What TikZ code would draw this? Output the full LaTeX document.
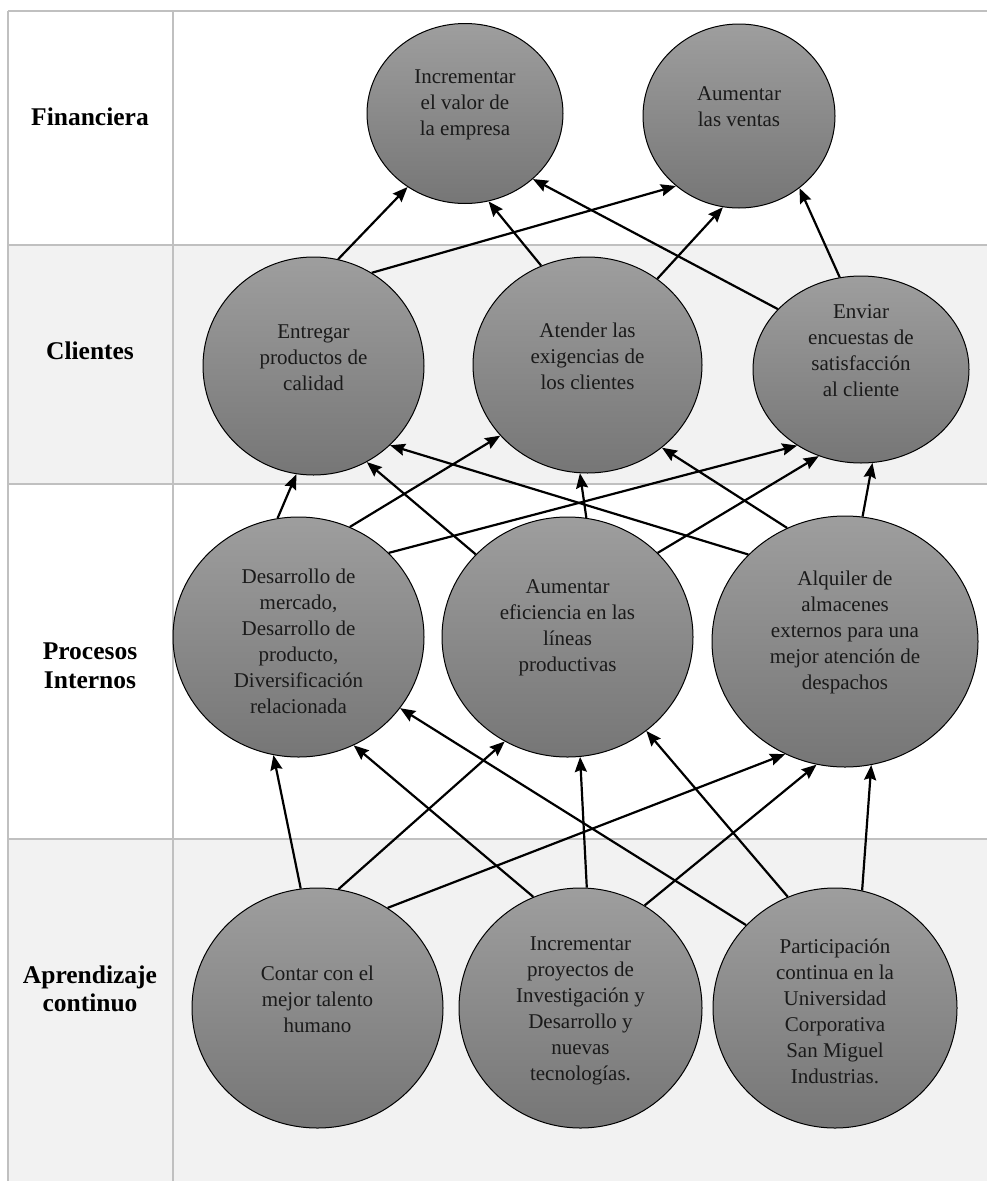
\documentclass[tikz,border=0pt]{standalone}
\usepackage{fontspec}
\setmainfont{Liberation Serif}
\usepackage{tikz}
\usetikzlibrary{arrows.meta,positioning,shapes.geometric}
\usepackage{xcolor}
\definecolor{gridGray}{RGB}{192,192,192}
\definecolor{rowGray}{RGB}{242,242,242}
\definecolor{ballTop}{RGB}{158,158,158}
\definecolor{ballBottom}{RGB}{118,118,118}
\definecolor{inkDark}{RGB}{26,26,26}
\tikzset{
  flow/.style={-{Stealth[length=15pt,width=12pt,inset=2pt]}, line width=2.2pt, draw=black},
  obj/.style={ellipse, draw=black, line width=1pt, top color=ballTop,
              bottom color=ballBottom, inner sep=0pt},
  objtext/.style={align=center, text=inkDark, inner sep=0pt,
                  font=\fontsize{21}{26}\selectfont},
  persp/.style={align=center, text=black, inner sep=0pt,
                font=\bfseries\fontsize{25.5}{28.5}\selectfont},
  rule/.style={draw=gridGray, line width=1.5pt}
}

\begin{document}
\begin{tikzpicture}[x=1pt, y=-1pt]
  \useasboundingbox (0,0) rectangle (987,1181);
  % table
  \fill[white] (0,0) rectangle (987,1181);
  \fill[rowGray] (8,245) rectangle (987,484);
  \fill[rowGray] (8,839) rectangle (987,1181);
  \draw[rule] (8,11) -- (987,11);
  \draw[rule] (8,245) -- (987,245);
  \draw[rule] (8,484) -- (987,484);
  \draw[rule] (8,839) -- (987,839);
  \draw[rule] (8,11) -- (8,1181);
  \draw[rule] (173,11) -- (173,1181);
  \node[persp] (lfin) at (90,117) {Financiera};
  \node[persp] (lcli) at (90,351) {Clientes};
  \node[persp] (lpro) at (90,666) {Procesos\\Internos};
  \node[persp] (lapr) at (90,989) {Aprendizaje\\continuo};
  % objetivos
  \node[obj, minimum width=196pt, minimum height=180pt] (f1) at (465,113.5) {};
  \node[obj, minimum width=192pt, minimum height=184pt] (f2) at (739,116) {};
  \node[obj, minimum width=221pt, minimum height=218pt] (c1) at (313.5,366) {};
  \node[obj, minimum width=229pt, minimum height=216pt] (c2) at (587.5,365) {};
  \node[obj, minimum width=216pt, minimum height=187pt] (c3) at (861,369.5) {};
  \node[obj, minimum width=251pt, minimum height=240pt] (p1) at (298.5,637) {};
  \node[obj, minimum width=251pt, minimum height=240pt] (p2) at (567.5,637) {};
  \node[obj, minimum width=266pt, minimum height=251pt] (p3) at (845,641.5) {};
  \node[obj, minimum width=251pt, minimum height=240pt] (a1) at (317.5,1008) {};
  \node[obj, minimum width=243pt, minimum height=240pt] (a2) at (580.5,1008) {};
  \node[obj, minimum width=244pt, minimum height=240pt] (a3) at (835,1008) {};
  \node[objtext] (f1t) at (465,105) {Incrementar\\el valor de\\la empresa};
  \node[objtext] (f2t) at (739,107) {Aumentar\\las ventas};
  \node[objtext] (c1t) at (313.5,358) {Entregar\\productos de\\calidad};
  \node[objtext] (c2t) at (587.5,356) {Atender las\\exigencias de\\los clientes};
  \node[objtext] (c3t) at (861,351) {Enviar\\encuestas de\\satisfacción\\al cliente};
  \node[objtext] (p1t) at (298.5,641) {Desarrollo de\\mercado,\\Desarrollo de\\producto,\\Diversificación\\relacionada};
  \node[objtext] (p2t) at (567.5,627.5) {Aumentar\\eficiencia en las\\líneas\\productivas};
  \node[objtext] (p3t) at (845,632) {Alquiler de\\almacenes\\externos para una\\mejor atención de\\despachos};
  \node[objtext] (a1t) at (317.5,999) {Contar con el\\mejor talento\\humano};
  \node[objtext] (a2t) at (580.5,1011) {Incrementar\\proyectos de\\Investigación y\\Desarrollo y\\nuevas\\tecnologías.};
  \node[objtext] (a3t) at (835,1011) {Participación\\continua en la\\Universidad\\Corporativa\\San Miguel\\Industrias.};
  % clientes -> financiera
  \draw[flow] (c1.77) -- (f1.232);
  \draw[flow] (c1.58) -- (f2.228);
  \draw[flow] (c2.115) -- (f1.285);
  \draw[flow] (c2.51) -- (f2.260);
  \draw[flow] (c3.144) -- (f1.316);
  \draw[flow] (c3.103) -- (f2.310);
  % procesos -> clientes
  \draw[flow] (p1.100) -- (c1.261);
  \draw[flow] (p1.65) -- (c2.219);
  \draw[flow] (p1.43) -- (c3.230);
  \draw[flow] (p2.138) -- (c1.299);
  \draw[flow] (p2.81) -- (c2.266);
  \draw[flow] (p2.43) -- (c3.244);
  \draw[flow] (p3.138) -- (c1.314);
  \draw[flow] (p3.117) -- (c2.312);
  \draw[flow] (p3.82) -- (c3.277);
  % aprendizaje -> procesos
  \draw[flow] (a1.98) -- (p1.258);
  \draw[flow] (a1.80) -- (p2.239);
  \draw[flow] (a1.55) -- (p3.242);
  \draw[flow] (a2.113) -- (p1.297);
  \draw[flow] (a2.87) -- (p2.276);
  \draw[flow] (a2.58) -- (p3.257);
  \draw[flow] (a3.137) -- (p1.325);
  \draw[flow] (a3.113) -- (p2.310);
  \draw[flow] (a3.77) -- (p3.282);
\end{tikzpicture}
\end{document}
